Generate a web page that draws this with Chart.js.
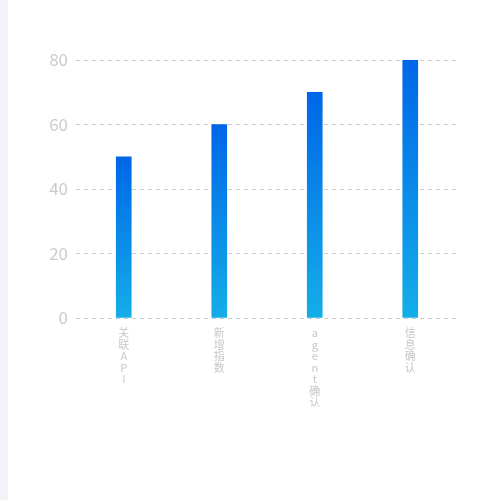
<!DOCTYPE html>
<html>
<head>
<meta charset="utf-8">
<script src="https://cdn.jsdelivr.net/npm/chart.js@4"></script>
<style>
  html, body { margin: 0; padding: 0; background: #fff; }
  #strip { position: absolute; left: 0; top: 0; width: 8px; height: 500px; background: #f2f3f8; }
  #wrap { position: absolute; left: 8px; top: 0; width: 492px; height: 500px; }
</style>
</head>
<body>
<div id="strip"></div>
<div id="wrap"><canvas id="chart"></canvas></div>
<script>
// chart data
const categories = ['关联API', '新增指数', 'agent确认', '信息确认'];
const values = [50, 60, 70, 80];
const yTicks = [0, 20, 40, 60, 80];

const ctx = document.getElementById('chart').getContext('2d');

// vertical gradient per bar, from the bar top down to the baseline
function barGradient(context) {
  const chart = context.chart;
  const area = chart.chartArea;
  if (!area || context.parsed == null) return '#0a8ae8';
  const y = chart.scales.y;
  const top = y.getPixelForValue(context.parsed.y);
  const bottom = y.getPixelForValue(0);
  const g = chart.ctx.createLinearGradient(0, top, 0, bottom);
  g.addColorStop(0, '#0066e8');
  g.addColorStop(1, '#14aee8');
  return g;
}

new Chart(ctx, {
  type: 'bar',
  data: {
    labels: categories.map(c => c.split('')),
    datasets: [{
      data: values,
      backgroundColor: barGradient,
      barThickness: 15,
      borderWidth: 0
    }]
  },
  options: {
    responsive: true,
    maintainAspectRatio: false,
    animation: false,
    layout: { padding: { left: 8, right: 42, top: 60, bottom: 0 } },
    plugins: { legend: { display: false }, tooltip: { enabled: false } },
    scales: {
      x: {
        grid: { display: false },
        border: { display: false },
        ticks: {
          color: '#c8c8c8',
          padding: 1,
          maxRotation: 0,
          autoSkip: false,
          font: { size: 11, family: '"Noto Sans CJK SC", sans-serif', lineHeight: 1.05 }
        },
        afterFit: s => { s.height = 182; }
      },
      y: {
        min: 0,
        max: 80,
        afterBuildTicks: s => { s.ticks = yTicks.map(v => ({ value: v })); },
        grid: { color: '#cccccc', drawTicks: false, lineWidth: 1 },
        border: { display: false, dash: [4, 4] },
        ticks: {
          color: '#cccccc',
          padding: 8,
          font: { size: 17, family: '"Noto Sans CJK SC", sans-serif' }
        },
        afterFit: s => { s.width = 60; }
      }
    }
  }
});
</script>
</body>
</html>
